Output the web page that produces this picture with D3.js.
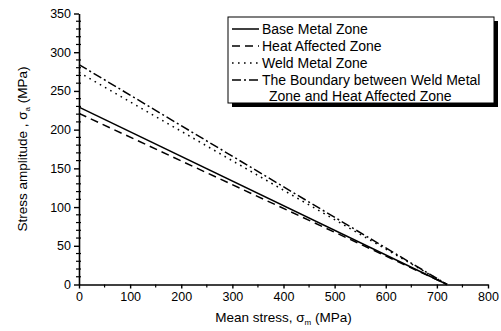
<!DOCTYPE html>
<html><head><meta charset="utf-8">
<script src="https://cdn.jsdelivr.net/npm/d3@7"></script>
<style>
body{margin:0;background:#fff;}
text{font-family:"Liberation Sans",Arial,sans-serif;fill:#000;}
</style></head>
<body><svg id="c" width="501" height="331"></svg>
<script>
// Data
const seriesNames = ["Base Metal Zone","Heat Affected Zone","Weld Metal Zone","The Boundary between Weld Metal"];
const meanStress = [0, 720];
const baseMetal = [229, 0];
const heatAffected = [221, 0];
const weldMetal = [274, 0];
const boundary = [284, 0];
const xTicks = [0,100,200,300,400,500,600,700,800];
const yTicks = [0,50,100,150,200,250,300,350];

const svg = d3.select("#c");
const x = d3.scaleLinear().domain([0,800]).range([79,488]);
const y = d3.scaleLinear().domain([0,350]).range([284.5,13.5]);

const line = d3.line().x(d=>x(d[0])).y(d=>y(d[1]));
const series = [
  {vals: baseMetal, dash: null},
  {vals: heatAffected, dash: "8,5"},
  {vals: weldMetal, dash: "1.6,4.4"},
  {vals: boundary, dash: "9,3,2,3"}
];
series.forEach(s=>{
  svg.append("path").datum(meanStress.map((m,i)=>[m,s.vals[i]]))
    .attr("d",line).attr("fill","none").attr("stroke","#000")
    .attr("stroke-width",1.5).attr("stroke-dasharray",s.dash);
});

// Axes
const yAxis = d3.axisLeft(y).tickValues(yTicks).tickSize(5).tickPadding(3).tickSizeOuter(0);
const gy = svg.append("g").attr("transform",`translate(${x(0)},0)`).call(yAxis);
const xAxis = d3.axisBottom(x).tickValues(xTicks).tickSize(4).tickPadding(4).tickSizeOuter(0);
const gx = svg.append("g").attr("transform",`translate(0,${y(0)})`).call(xAxis);
[gx,gy].forEach(g=>{
  g.select(".domain").attr("stroke","#000").attr("stroke-width",1.6);
  g.selectAll(".tick line").attr("stroke","#000").attr("stroke-width",1.4);
  g.selectAll(".tick text").attr("font-size",12.5).attr("font-family","Liberation Sans, Arial, sans-serif");
});
// minor ticks
const yMinor = d3.range(0,351,10).filter(v=>v%50!==0);
svg.append("g").selectAll("line").data(yMinor).join("line")
  .attr("x1",x(0)-3).attr("x2",x(0)+2).attr("y1",d=>y(d)).attr("y2",d=>y(d))
  .attr("stroke","#000").attr("stroke-width",1.2);
const xMinor = d3.range(50,800,100);
svg.append("g").selectAll("line").data(xMinor).join("line")
  .attr("x1",d=>x(d)).attr("x2",d=>x(d)).attr("y1",y(0)).attr("y2",y(0)+3)
  .attr("stroke","#000").attr("stroke-width",1.2);

// Axis labels
const xl = svg.append("text").attr("x",(x(0)+x(800))/2).attr("y",322)
  .attr("text-anchor","middle").attr("font-size",13.5);
xl.append("tspan").text("Mean stress, σ");
xl.append("tspan").text("m").attr("font-size",8).attr("dy",3);
xl.append("tspan").text(" (MPa)").attr("dy",-3);

const yl = svg.append("text").attr("transform",`translate(27,${(y(0)+y(350))/2}) rotate(-90)`)
  .attr("text-anchor","middle").attr("font-size",13.5);
yl.append("tspan").text("Stress amplitude , σ");
yl.append("tspan").text("a").attr("font-size",8).attr("dy",3);
yl.append("tspan").text(" (MPa)").attr("dy",-3);

// Legend
const lg = svg.append("g");
const bx=228, by=17, bw=266, bh=86;
lg.append("rect").attr("x",bx+4).attr("y",by+4).attr("width",bw).attr("height",bh).attr("fill","#000");
lg.append("rect").attr("x",bx).attr("y",by).attr("width",bw).attr("height",bh).attr("fill","#fff").attr("stroke","#000").attr("stroke-width",1);
const rowY = [29,46,63,80];
series.forEach((s,i)=>{
  lg.append("line").attr("x1",bx+4).attr("x2",bx+31).attr("y1",rowY[i]).attr("y2",rowY[i])
    .attr("stroke","#000").attr("stroke-width",1.5).attr("stroke-dasharray",s.dash);
  lg.append("text").attr("x",bx+34).attr("y",rowY[i]+5).attr("font-size",14).text(seriesNames[i]);
});
lg.append("text").attr("x",bx+41).attr("y",96+5).attr("font-size",14).text("Zone and Heat Affected Zone");
</script></body></html>
